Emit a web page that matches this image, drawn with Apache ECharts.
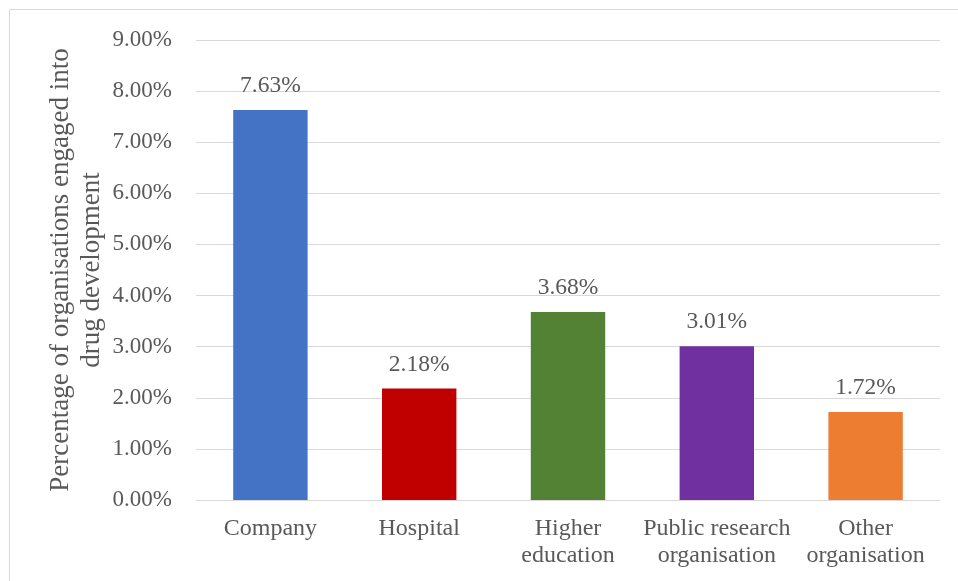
<!DOCTYPE html>
<html>
<head>
<meta charset="utf-8">
<script src="https://cdn.jsdelivr.net/npm/echarts@6/dist/echarts.min.js"></script>
<style>
  html, body { margin: 0; padding: 0; background: #fff; }
  #chart { width: 958px; height: 581px; }
</style>
</head>
<body>
<div id="chart"></div>
<script>
// Share of organisations engaged in drug development, by organisation type
const categories = ['Company', 'Hospital', 'Higher\neducation', 'Public research\norganisation', 'Other\norganisation'];
const shares = [7.63, 2.18, 3.68, 3.01, 1.72];
const barColors = ['#4472C4', '#C00000', '#548235', '#7030A0', '#ED7D31'];
const axisTitle = 'Percentage of organisations engaged into\ndrug development';

const FONT = '"Liberation Serif", "Times New Roman", serif';
const TEXT = '#595959';

const chart = echarts.init(document.getElementById('chart'));
chart.setOption({
  animation: false,
  backgroundColor: '#fff',
  graphic: [{
    type: 'rect',
    shape: { x: 9.5, y: 9.5, width: 1000, height: 700 },
    style: { fill: 'none', stroke: '#d9d9d9', lineWidth: 1 },
    silent: true
  }],
  grid: { left: 196, right: 18, top: 40, bottom: 81 },
  xAxis: {
    type: 'category',
    data: categories,
    axisTick: { show: false },
    axisLine: { lineStyle: { color: '#d9d9d9', width: 1 } },
    axisLabel: {
      color: TEXT, fontFamily: FONT, fontSize: 24, lineHeight: 27,
      margin: 15, interval: 0
    }
  },
  yAxis: {
    type: 'value',
    min: 0, max: 9, interval: 1,
    name: axisTitle,
    nameLocation: 'middle',
    nameGap: 89,
    nameMoveOverlap: false,
    nameRotate: 90,
    nameTextStyle: { color: TEXT, fontFamily: FONT, fontSize: 27, lineHeight: 31, align: 'center' },
    axisLine: { show: false },
    axisTick: { show: false },
    splitLine: { lineStyle: { color: '#d9d9d9', width: 1 } },
    axisLabel: {
      color: TEXT, fontFamily: FONT, fontSize: 23, margin: 24,
      formatter: v => v.toFixed(2) + '%'
    }
  },
  series: [{
    type: 'bar',
    barWidth: '50%',
    data: shares.map((v, i) => ({ value: v, itemStyle: { color: barColors[i] } })),
    label: {
      show: true, position: 'top', distance: 12,
      color: TEXT, fontFamily: FONT, fontSize: 23.5,
      formatter: p => p.value.toFixed(2) + '%'
    }
  }]
});
</script>
</body>
</html>
